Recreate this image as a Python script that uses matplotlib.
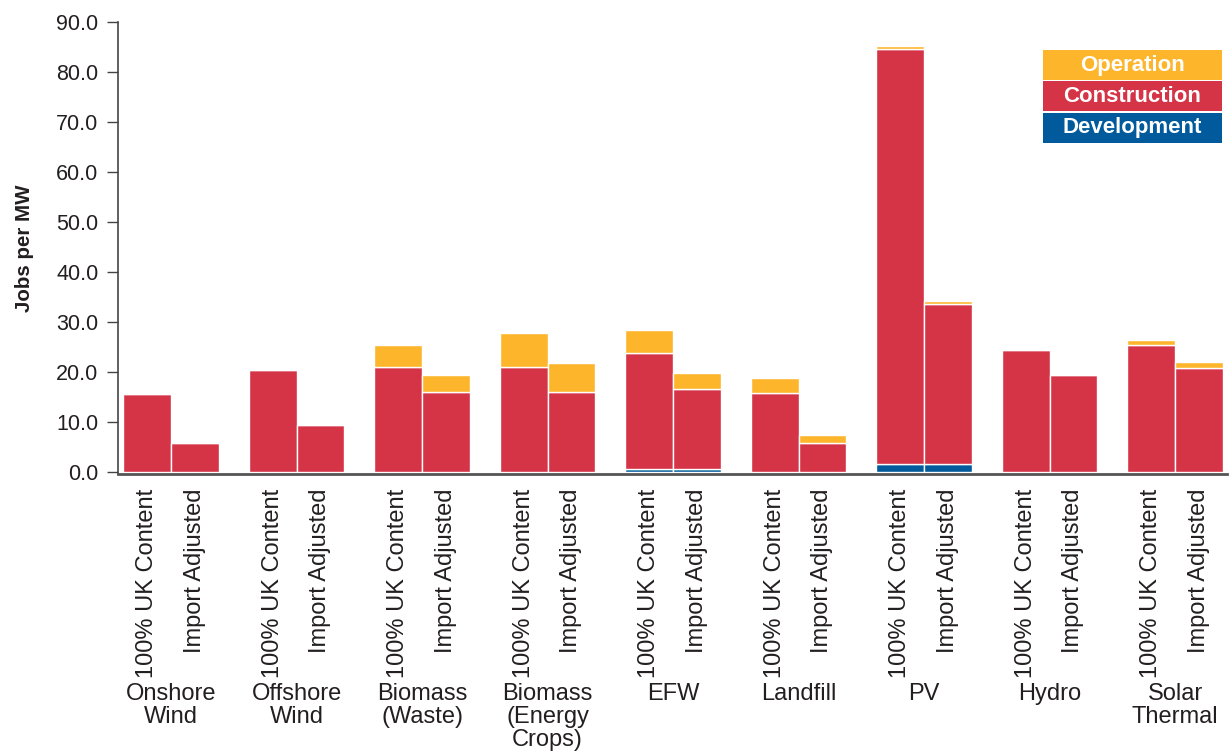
import numpy as np
import matplotlib.pyplot as plt
from matplotlib.patches import Rectangle
from matplotlib.transforms import blended_transform_factory

plt.rcParams['font.family'] = ['Liberation Sans', 'DejaVu Sans']

#%%
groups = ["Onshore\nWind", "Offshore\nWind", "Biomass\n(Waste)", "Biomass\n(Energy\nCrops)",
          "EFW", "Landfill", "PV", "Hydro", "Solar\nThermal"]
bar_labels = ["100% UK Content", "Import Adjusted"]

# jobs per MW, [100% UK content, import adjusted] for each group
development = np.array([[0, 0], [0, 0], [0, 0], [0, 0], [0.6, 0.6],
                        [0, 0], [1.6, 1.6], [0, 0], [0, 0]])
construction = np.array([[15.6, 5.8], [20.4, 9.4], [21.0, 16.0], [21.0, 16.0], [23.2, 16.0],
                         [15.8, 5.8], [83.0, 32.0], [24.4, 19.4], [25.4, 20.8]])
operation = np.array([[0, 0], [0, 0], [4.4, 3.4], [6.8, 5.8], [4.6, 3.2],
                      [3.0, 1.6], [0.6, 0.6], [0, 0], [1.0, 1.2]])

series = ["Operation", "Construction", "Development"]
colors = {"Operation": "#FDB52B", "Construction": "#D53346", "Development": "#005A9C"}
text_col = "#231F20"

#%%
fig = plt.figure(figsize=(12.32, 7.53), dpi=100)
ax = fig.add_axes([0.0958, 0.3699, 0.9002, 0.601])

w = 0.38
x = np.arange(len(groups))
for j, off in enumerate([-w / 2, w / 2]):
    xs = x + off
    ax.bar(xs, development[:, j], w, color=colors["Development"], edgecolor="white", linewidth=1)
    ax.bar(xs, construction[:, j], w, bottom=development[:, j],
           color=colors["Construction"], edgecolor="white", linewidth=1)
    ax.bar(xs, operation[:, j], w, bottom=development[:, j] + construction[:, j],
           color=colors["Operation"], edgecolor="white", linewidth=1)

ax.set_xlim(-0.422, 8.414)
ax.set_ylim(-0.5, 90)
ax.set_yticks(np.arange(0, 91, 10))
ax.set_yticklabels([f"{v:.1f}" for v in np.arange(0, 91, 10)], fontsize=15.5, color=text_col)
ax.tick_params(axis="y", direction="out", length=8, width=1, color="#444444", pad=6)

xt = np.concatenate([x - w / 2, x + w / 2])
xl = [bar_labels[0]] * len(groups) + [bar_labels[1]] * len(groups)
ax.set_xticks(xt)
ax.set_xticklabels(xl, rotation=90, fontsize=17, color=text_col, va="top")
ax.tick_params(axis="x", length=0, pad=10)

for s in ["top", "right"]:
    ax.spines[s].set_visible(False)
ax.spines["left"].set_color("#444444")
ax.spines["left"].set_linewidth(1.2)
ax.spines["bottom"].set_color("#555555")
ax.spines["bottom"].set_linewidth(2)

ax.set_ylabel("Jobs per MW", fontsize=14.8, fontweight="bold", color=text_col, labelpad=16)

# group names under the rotated labels
trans = blended_transform_factory(ax.transData, fig.transFigure)
for i, g in enumerate(groups):
    ax.text(x[i], 0.093, g, transform=trans, ha="center", va="top",
            fontsize=17, color=text_col, linespacing=1.05, clip_on=False)

# legend boxes, top right
lx0, lx1 = 1043 / 1232, 1222 / 1232
tops = [50, 81, 113]
for name, t in zip(series, tops):
    y0 = 1 - (t + 29.5) / 753
    fig.patches.append(Rectangle((lx0, y0), lx1 - lx0, 29.5 / 753, transform=fig.transFigure,
                                 facecolor=colors[name], edgecolor="none"))
    fig.text((lx0 + lx1) / 2, y0 + 14.5 / 753, name, ha="center", va="center",
             fontsize=16, fontweight="bold", color="white")

fig.savefig("out.png", dpi=100)
